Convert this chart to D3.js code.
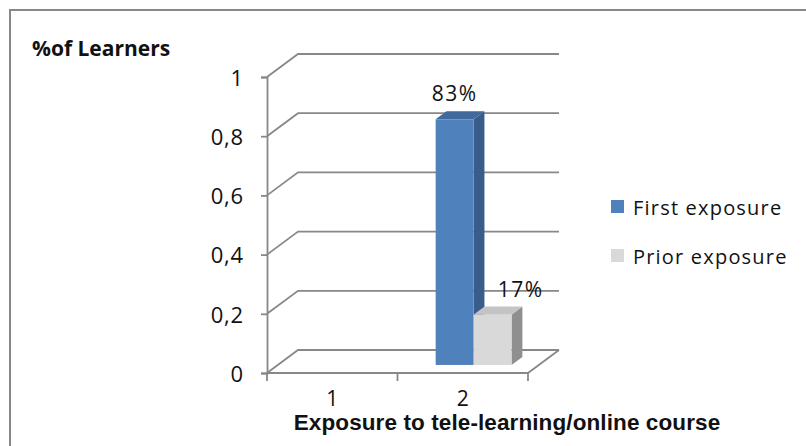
<!DOCTYPE html>
<html>
<head>
<meta charset="utf-8">
<script src="https://cdn.jsdelivr.net/npm/d3@7"></script>
<style>
  body { margin: 0; background: #fff; }
  text { font-family: "Open Sans", sans-serif; fill: #111; }
</style>
</head>
<body>
<div id="chart"></div>
<script>
// Data
const categories = ['1', '2'];
const seriesNames = ['First exposure', 'Prior exposure'];
const firstExposure = [null, 0.83];
const priorExposure = [null, 0.17];
const valueLabels = [[null, '83%'], [null, '17%']];
const yTicks = [0, 0.2, 0.4, 0.6, 0.8, 1];

const w = 806;
const h = 446;

// front plane of the 3d box and the depth shift to the back wall
const plot = { left: 267, right: 528, top: 77, bottom: 373 };
const depth = { dx: 31, dy: -23 };

const fills = [
  { front: '#4f81bd', side: '#385d8a', top: '#41699c' },
  { front: '#d9d9d9', side: '#8f8f8f', top: '#c4c4c4' }
];
const gridColor = '#888';

const svg = d3.select('#chart')
  .append('svg')
  .attr('width', w)
  .attr('height', h);

// outer frame
svg.append('rect')
  .attr('x', 10).attr('y', 10)
  .attr('width', w).attr('height', h)
  .attr('fill', 'none')
  .attr('stroke', gridColor)
  .attr('stroke-width', 2);

// Scales
const xScale = d3.scaleBand()
  .domain(categories)
  .range([plot.left, plot.right]);

const yScale = d3.scaleLinear()
  .domain([0, 1])
  .range([plot.bottom, plot.top]);

const inner = d3.scaleBand()
  .domain(seriesNames)
  .range([0, xScale.bandwidth()])
  .paddingOuter(0.72);

// Back wall gridlines, side wall diagonals
const grid = svg.append('g')
  .attr('stroke', gridColor)
  .attr('stroke-width', 1.8)
  .attr('fill', 'none');

grid.selectAll('.wall')
  .data(yTicks)
  .join('path')
  .attr('class', 'wall')
  .attr('d', d => {
    const y = yScale(d);
    return `M${plot.left},${y} L${plot.left + depth.dx},${y + depth.dy} L${plot.right + depth.dx},${y + depth.dy}`;
  });

// floor: right diagonal
grid.append('path')
  .attr('d', `M${plot.right},${plot.bottom} L${plot.right + depth.dx},${plot.bottom + depth.dy}`);

// y axis
const yAxis = d3.axisLeft(yScale)
  .tickValues(yTicks)
  .tickSize(6)
  .tickPadding(17)
  .tickFormat(d => String(d).replace('.', ','));

const yg = svg.append('g')
  .attr('transform', `translate(${plot.left},0)`)
  .call(yAxis);

yg.select('.domain').attr('stroke', gridColor).attr('stroke-width', 1.8);
yg.selectAll('.tick line').attr('stroke', gridColor).attr('stroke-width', 1.8);
yg.selectAll('.tick text')
  .attr('font-family', '"Open Sans", sans-serif')
  .attr('font-size', 22)
  .attr('letter-spacing', 0.8)
  .attr('dy', '0.38em')
  .attr('fill', '#111');

// x axis
const xAxis = d3.axisBottom(xScale)
  .tickSize(0)
  .tickPadding(18);

const xg = svg.append('g')
  .attr('transform', `translate(0,${plot.bottom})`)
  .call(xAxis);

xg.select('.domain').attr('stroke', gridColor).attr('stroke-width', 1.8)
  .attr('d', `M${plot.left},0H${plot.right}`);
xg.selectAll('.tick text')
  .attr('font-family', '"Open Sans", sans-serif')
  .attr('font-size', 21)
  .attr('fill', '#111');

// x tick marks sit on the category boundaries
const boundaries = categories.map(c => xScale(c)).concat([plot.right]);
xg.selectAll('.bound')
  .data(boundaries)
  .join('line')
  .attr('class', 'bound')
  .attr('x1', d => d).attr('x2', d => d)
  .attr('y1', 0).attr('y2', 8)
  .attr('stroke', gridColor)
  .attr('stroke-width', 1.8);

// 3d columns
const barDepth = 0.35; // share of the floor depth
const front = { dx: depth.dx * barDepth, dy: depth.dy * barDepth };
const back = { dx: depth.dx * barDepth, dy: depth.dy * barDepth };

const series = [firstExposure, priorExposure];
const bars = svg.append('g');

series.forEach((values, si) => {
  values.forEach((v, ci) => {
    if (v == null) return;
    const x0 = xScale(categories[ci]) + inner(seriesNames[si]) + front.dx;
    const x1 = x0 + inner.bandwidth();
    const yb = yScale(0) + front.dy;
    const yt = yScale(v) + front.dy;
    const g = bars.append('g');
    g.append('path')
      .attr('fill', fills[si].side)
      .attr('d', `M${x1},${yb} L${x1 + back.dx},${yb + back.dy} L${x1 + back.dx},${yt + back.dy} L${x1},${yt} Z`);
    g.append('path')
      .attr('fill', fills[si].top)
      .attr('d', `M${x0},${yt} L${x0 + back.dx},${yt + back.dy} L${x1 + back.dx},${yt + back.dy} L${x1},${yt} Z`);
    g.append('rect')
      .attr('x', x0).attr('y', yt)
      .attr('width', x1 - x0).attr('height', yb - yt)
      .attr('fill', fills[si].front);

    // value label, the short column's label is pushed to the right
    const shift = si === 1 ? 28 : 0;
    g.append('text')
      .attr('x', (x0 + x1) / 2 + shift)
      .attr('y', yt + back.dy - 10)
      .attr('text-anchor', 'middle')
      .attr('font-size', 21)
      .attr('letter-spacing', 1.5)
      .text(valueLabels[si][ci]);
  });
});

// titles
svg.append('text')
  .attr('x', 32).attr('y', 56)
  .attr('font-size', 21)
  .attr('font-weight', 'bold')
  .text('%of Learners');

svg.append('text')
  .attr('x', 507).attr('y', 430)
  .attr('text-anchor', 'middle')
  .style('font-family', '"Liberation Sans", Arial, sans-serif')
  .attr('font-size', 22.5)
  .attr('font-weight', 'bold')
  .attr('letter-spacing', 0.1)
  .text('Exposure to tele-learning/online course');

// legend
const legend = svg.append('g')
  .attr('transform', 'translate(611,200)');

const items = legend.selectAll('g')
  .data(seriesNames)
  .join('g')
  .attr('transform', (d, i) => `translate(0,${i * 49})`);

items.append('rect')
  .attr('width', 13).attr('height', 13)
  .attr('fill', (d, i) => fills[i].front);

items.append('text')
  .attr('x', 22).attr('y', 15)
  .attr('font-size', 20)
  .attr('letter-spacing', 1.2)
  .text(d => d);
</script>
</body>
</html>
